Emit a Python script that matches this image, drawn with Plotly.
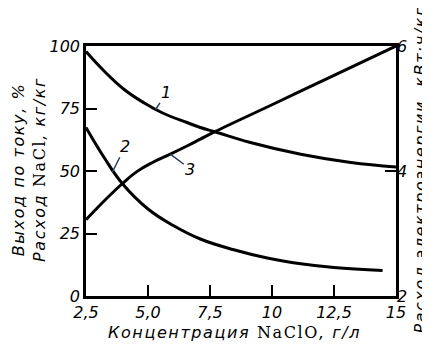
import plotly.graph_objects as go

# Curve 1: Выход по току, % (left axis)
x1 = [2.5, 3.23, 4.04, 4.85, 5.59, 6.57, 7.11, 7.7, 9.13, 11.16, 13.18, 15.0]
y1 = [97.8, 90.0, 82.6, 77.2, 73.2, 69.4, 67.4, 65.7, 61.4, 56.7, 53.4, 51.6]
# Curve 2: Расход NaCl, кг/кг (left axis)
x2 = [2.5, 3.23, 3.97, 5.0, 6.0, 7.11, 8.46, 9.81, 11.16, 12.5, 14.46]
y2 = [67.4, 55.4, 44.9, 34.8, 28.3, 22.8, 18.5, 15.2, 12.9, 11.4, 10.2]
# Curve 3: Расход электроэнергии, кВт·ч/кг (right axis)
x3 = [2.5, 3.23, 3.97, 4.55, 5.2, 5.9, 6.57, 7.11, 7.7, 10.0, 12.5, 15.0]
y3 = [3.22, 3.52, 3.80, 3.99, 4.14, 4.27, 4.40, 4.51, 4.63, 5.06, 5.53, 6.00]

xticks = [2.5, 5.0, 7.5, 10, 12.5, 15]
xticktext = ["2,5", "5,0", "7,5", "10", "12,5", "15"]
yticks = [0, 25, 50, 75, 100]
y2ticks = [2, 4, 6]

FONT = "DejaVu Sans"
SERIF = "DejaVu Serif"
fs_tick = 16
fs_title = 16

fig = go.Figure()
line = dict(color="black", width=3, shape="spline", smoothing=1.2)
fig.add_trace(go.Scatter(x=x1, y=y1, mode="lines", line=line, showlegend=False))
fig.add_trace(go.Scatter(x=x2, y=y2, mode="lines", line=line, showlegend=False))
fig.add_trace(go.Scatter(x=x3, y=y3, mode="lines", line=line, showlegend=False, yaxis="y2"))

tf = dict(family=FONT, size=fs_tick, color="black", style="italic")

fig.update_layout(
    width=422, height=337,
    margin=dict(l=78, r=34, t=38, b=49),
    paper_bgcolor="white", plot_bgcolor="white",
    xaxis=dict(range=[2.5, 15], tickvals=xticks, ticktext=xticktext,
               ticks="inside", ticklen=11, tickwidth=2, tickcolor="black",
               showline=True, linecolor="black", linewidth=2.5, mirror=True,
               showgrid=False, zeroline=False, tickfont=tf),
    yaxis=dict(range=[0, 100], tickvals=yticks,
               ticks="inside", ticklen=11, tickwidth=2, tickcolor="black",
               showline=True, linecolor="black", linewidth=2.5, mirror=True,
               showgrid=False, zeroline=False, tickfont=tf),
    yaxis2=dict(range=[2, 6], tickvals=y2ticks, overlaying="y", side="right",
                ticks="inside", ticklen=11, tickwidth=2, tickcolor="black",
                showline=False, showgrid=False, zeroline=False, tickfont=tf),
)

lab_font = dict(family=FONT, size=fs_tick, color="black", style="italic")
ann_font = dict(family=FONT, size=fs_title, color="black", style="italic")
sp = "letter-spacing:1.6px"
serif_span = "<span style='font-family:" + SERIF + ";font-style:normal;" + sp + "'>"
wide = "<span style='" + sp + "'>"
# Curve labels with leader lines
fig.add_annotation(x=5.3, y=74.5, text="1", showarrow=True, arrowhead=0, arrowwidth=1.5,
                   ax=11, ay=-17, font=lab_font)
fig.add_annotation(x=3.56, y=49.5, text="2", showarrow=True, arrowhead=0, arrowwidth=1.5,
                   ax=13, ay=-26, font=lab_font)
fig.add_annotation(x=5.9, y=4.27, yref="y2", text="3", showarrow=True, arrowhead=0, arrowwidth=1.5,
                   ax=20, ay=15, font=lab_font)

# Axis titles
fig.add_annotation(xref="paper", yref="paper", x=0.48, y=-0.145, yanchor="middle",
                   text=wide + "Концентрация </span>" + serif_span + "NaClO</span>" + wide + ", г/л</span>",
                   showarrow=False, font=ann_font)
fig.add_annotation(xref="paper", yref="paper", x=-0.184, y=0.508, xanchor="center", yanchor="middle",
                   text=wide + "Выход по току, %</span><br>" + wide + "Расход </span>" + serif_span
                   + "NaCl</span>" + wide + ", кг/кг</span>",
                   textangle=-90, showarrow=False, font=ann_font)
fig.add_annotation(xref="paper", yref="paper", x=1.08, y=0.505, xanchor="center", yanchor="middle",
                   text=wide + "Расход электроэнергии, кВт·ч/кг</span>",
                   textangle=-90, showarrow=False, font=ann_font)

fig.write_html("out.html")
